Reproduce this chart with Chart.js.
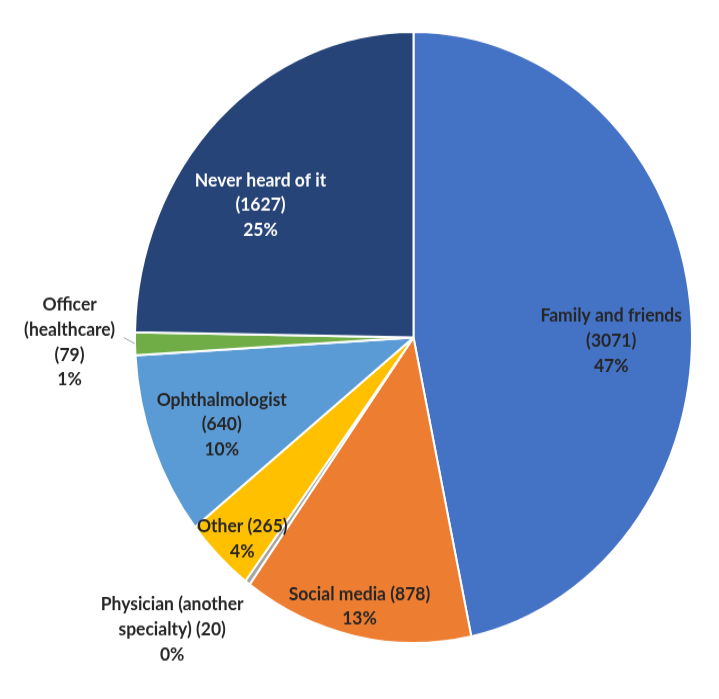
<!DOCTYPE html>
<html lang="en">

<head>
    <meta charset="UTF-8">
    <title>Sources of awareness</title>
    <script src="https://cdn.jsdelivr.net/npm/chart.js"></script>
    <style>
        body {
            margin: 0;
            padding: 0;
            background-color: #fff;
            overflow: hidden;
        }

        #pieChart {
            display: block;
        }
    </style>
</head>

<body>
    <!-- the reference is stretched vertically, so the canvas is drawn 637 high and shown 699 high -->
    <canvas id="pieChart" width="719" height="637" style="width: 719px; height: 699px;"></canvas>

    <script>
        var categories = ['Family and friends', 'Social media', 'Physician (another specialty)', 'Other',
            'Ophthalmologist', 'Officer (healthcare)', 'Never heard of it'];
        var counts = [3071, 878, 20, 265, 640, 79, 1627];

        // text lines of each label, value and percent are filled in below
        var labelLines = [
            ['Family and friends', '({v})', '{p}'],
            ['Social media ({v})', '{p}'],
            ['Physician (another', 'specialty) ({v})', '{p}'],
            ['Other ({v})', '{p}'],
            ['Ophthalmologist', '({v})', '{p}'],
            ['Officer', '(healthcare)', '({v})', '{p}'],
            ['Never heard of it', '({v})', '{p}']
        ];

        var colors = ['#4472C4', '#ED7D31', '#A5A5A5', '#FFC000', '#5B9BD5', '#70AD47', '#264478'];
        var textColors = ['#262626', '#262626', '#262626', '#262626', '#262626', '#262626', '#FFFFFF'];
        // label placement: radius factor and angle nudge (degrees) from the slice middle
        var labelRadius = [0.71, 0.90, 1.29, 0.90, 0.745, 1.235, 0.70];
        var labelAngle = [6.9, 0.4, 5.6, -1.3, -1.6, 0.5, -7.2];

        var total = counts.reduce(function (a, b) { return a + b; }, 0);

        var labelPlugin = {
            id: 'sliceLabels',
            afterDraw: function (chart) {
                var ctx = chart.ctx;
                var arcs = chart.getDatasetMeta(0).data;
                ctx.save();
                ctx.font = 'bold 17.5px Lato';
                ctx.textAlign = 'center';
                ctx.textBaseline = 'middle';
                arcs.forEach(function (arc, i) {
                    var mid = (arc.startAngle + arc.endAngle) / 2;
                    var a = mid + labelAngle[i] * Math.PI / 180;
                    var r = arc.outerRadius * labelRadius[i];
                    var cx = arc.x + Math.cos(a) * r;
                    var cy = arc.y + Math.sin(a) * r;
                    var pct = Math.round(counts[i] / total * 100) + '%';
                    var lines = labelLines[i].map(function (s) {
                        return s.replace('{v}', counts[i]).replace('{p}', pct);
                    });
                    var lh = 22.8;
                    var y0 = cy - (lines.length - 1) * lh / 2;
                    ctx.fillStyle = textColors[i];
                    lines.forEach(function (s, k) {
                        ctx.fillText(s, cx, y0 + k * lh);
                    });

                    // leader line for the thin officer slice
                    if (i === 5) {
                        ctx.strokeStyle = '#A6A6A6';
                        ctx.lineWidth = 1;
                        ctx.beginPath();
                        ctx.moveTo(arc.x + Math.cos(mid + 0.02) * arc.outerRadius * 1.04,
                            arc.y + Math.sin(mid + 0.02) * arc.outerRadius * 1.04);
                        ctx.lineTo(arc.x + Math.cos(mid) * arc.outerRadius,
                            arc.y + Math.sin(mid) * arc.outerRadius);
                        ctx.stroke();
                    }
                });
                ctx.restore();
            }
        };

        var pieChart = new Chart(document.getElementById('pieChart').getContext('2d'), {
            type: 'pie',
            data: {
                labels: categories,
                datasets: [{
                    data: counts,
                    backgroundColor: colors,
                    borderColor: '#FFFFFF',
                    borderWidth: 2
                }]
            },
            options: {
                responsive: false,
                animation: false,
                layout: {
                    padding: { left: 134, right: 26, top: 28, bottom: 50 }
                },
                plugins: {
                    legend: { display: false },
                    tooltip: { enabled: false }
                }
            },
            plugins: [labelPlugin]
        });
    </script>
</body>

</html>
